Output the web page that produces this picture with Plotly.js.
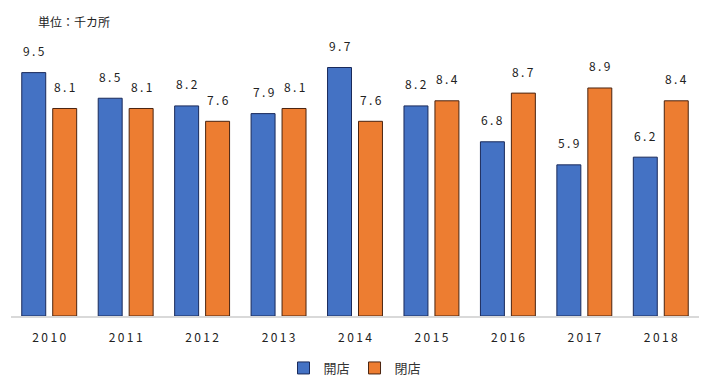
<!DOCTYPE html>
<html><head><meta charset="utf-8">
<script src="https://cdn.plot.ly/plotly-3.0.1.min.js"></script>
<style>html,body{margin:0;padding:0;background:#fff}#c{width:720px;height:391px}</style>
</head><body><div id="c"></div>
<script>
const years = ["2010","2011","2012","2013","2014","2015","2016","2017","2018"];
const openStores = [9.5, 8.5, 8.2, 7.9, 9.7, 8.2, 6.8, 5.9, 6.2];
const closeStores = [8.1, 8.1, 7.6, 8.1, 7.6, 8.4, 8.7, 8.9, 8.4];
const seriesNames = ["開店", "閉店"];
const unitLabel = "単位：千カ所";

const fontFam = '"Noto Sans CJK JP", "DejaVu Sans", sans-serif';
const spaced = s => s.split("").join("\u2009");
const cats = years.map(spaced);

const traces = [
  {type:"bar", name:seriesNames[0], x:cats, y:openStores,
   marker:{color:"#4472C4", line:{color:"#1a2a5a", width:1}}, hoverinfo:"none"},
  {type:"bar", name:seriesNames[1], x:cats, y:closeStores,
   marker:{color:"#ED7D31", line:{color:"#4a2410", width:1}}, hoverinfo:"none"}
];

const annotations = [];
years.forEach((yr, i) => {
  annotations.push({x:i, y:openStores[i], xref:"x", yref:"y", text:spaced(openStores[i].toFixed(1)),
    showarrow:false, xshift:-15.5, yshift:22, font:{size:12, color:"#222", family:fontFam}});
  annotations.push({x:i, y:closeStores[i], xref:"x", yref:"y", text:spaced(closeStores[i].toFixed(1)),
    showarrow:false, xshift:15.5, yshift:22, font:{size:12, color:"#222", family:fontFam}});
});
annotations.push({xref:"paper", yref:"paper", x:0.037, y:1.093, xanchor:"left", yanchor:"middle",
  text:unitLabel, showarrow:false, font:{size:12, color:"#222", family:fontFam}});

const layout = {
  width:720, height:391,
  margin:{l:11, r:21, t:47, b:75, autoexpand:false},
  paper_bgcolor:"#fff", plot_bgcolor:"#fff",
  barmode:"group", bargap:0.19, bargroupgap:0.226,
  showlegend:true,
  legend:{orientation:"h", x:0.5, xanchor:"center", yref:"container", y:(391-368)/391, yanchor:"middle",
    font:{size:13, color:"#333", family:fontFam}, traceorder:"normal"},
  xaxis:{type:"category", range:[-0.5, 8.5], showgrid:false, showline:true, linecolor:"#d9d9d9", linewidth:2,
    ticks:"outside", ticklen:10, tickcolor:"rgba(0,0,0,0)", tickangle:0, automargin:false,
    tickfont:{size:12, color:"#222", family:fontFam}},
  yaxis:{range:[0,10.5], showgrid:false, showticklabels:false, zeroline:false, showline:false, ticks:""},
  annotations:annotations,
  font:{family:fontFam}
};

Plotly.newPlot("c", traces, layout, {staticPlot:true, displayModeBar:false});
</script></body></html>
